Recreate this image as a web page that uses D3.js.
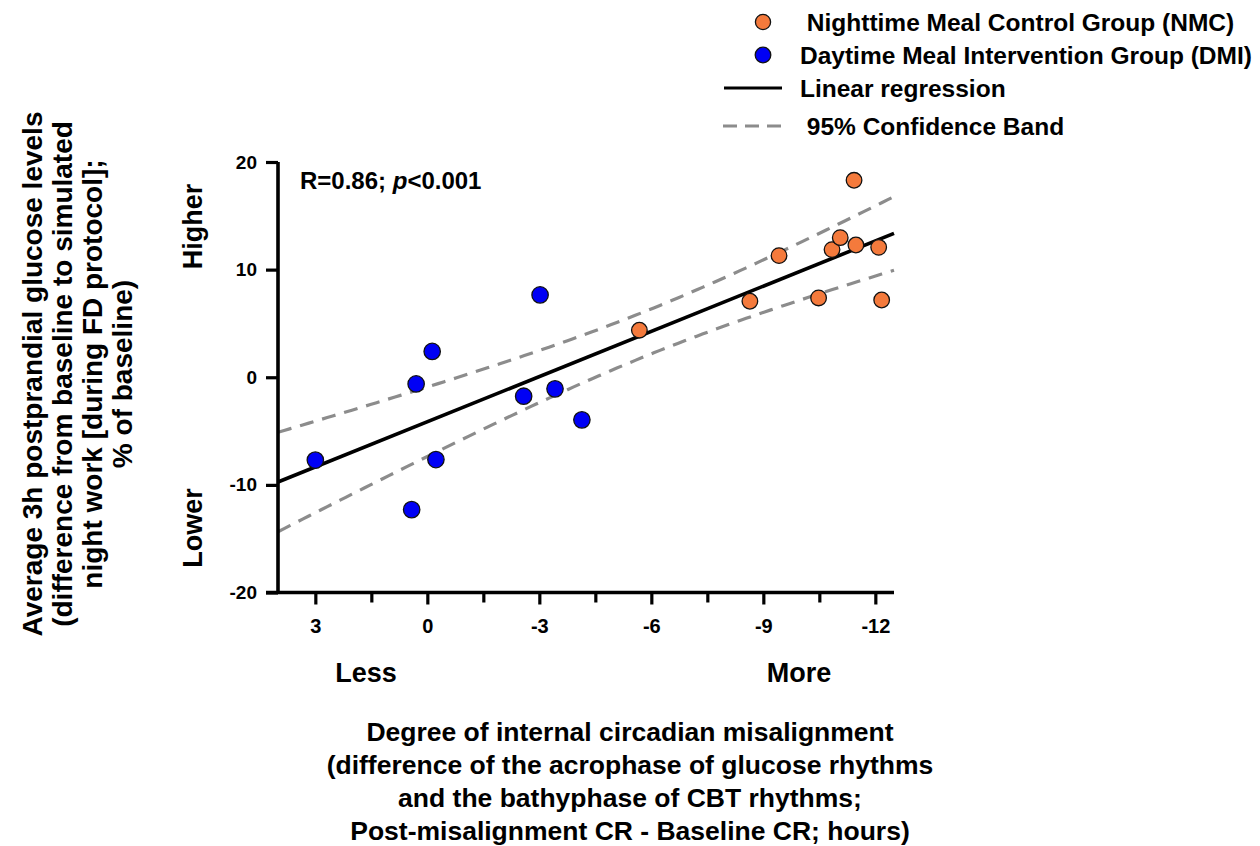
<!DOCTYPE html>
<html>
<head>
<meta charset="utf-8">
<script src="https://cdn.jsdelivr.net/npm/d3@7"></script>
<style>
  html, body { margin: 0; padding: 0; background: #fff; }
  svg { display: block; }
  text { font-family: "Liberation Sans", Arial, sans-serif; font-weight: bold; fill: #000; }
</style>
</head>
<body>
<svg id="chart" width="1260" height="846"></svg>
<script>
// Circadian misalignment (hours) vs. change in postprandial glucose (% of baseline)
const nmcX = [-5.68, -8.64, -9.42, -10.48, -10.84, -11.06, -11.43, -11.48, -12.09, -12.17];
const nmcY = [4.37, 7.06, 11.3, 7.37, 11.86, 12.97, 18.3, 12.29, 12.07, 7.18];
const dmiX = [3.0, 0.42, 0.3, -0.13, -0.23, -2.58, -3.02, -3.42, -4.14];
const dmiY = [-7.7, -12.3, -0.62, 2.4, -7.65, -1.76, 7.65, -1.08, -3.96];

const xTicks = [3, 1.5, 0, -1.5, -3, -4.5, -6, -7.5, -9, -10.5, -12];
const xTickLabels = [3, 0, -3, -6, -9, -12];
const yTicks = [20, 10, 0, -10, -20];

const legendLabels = [
  " Nighttime Meal Control Group (NMC)",
  "Daytime Meal Intervention Group (DMI)",
  "Linear regression",
  " 95% Confidence Band"
];
const statsLabel = ["R=0.86; ", "p", "<0.001"];
const yTitleLines = [
  "Average 3h postprandial glucose levels",
  "(difference from baseline to simulated",
  "night work [during FD protocol];",
  "% of baseline)"
];
const xTitleLines = [
  "Degree of internal circadian misalignment",
  "(difference of the acrophase of glucose rhythms",
  "and the bathyphase of CBT rhythms;",
  "Post-misalignment CR - Baseline CR; hours)"
];

const tCrit = 2.110; // two-sided 95%, df = 17

const ORANGE = "#F47A3C";
const BLUE = "#0000F5";
const GREY = "#8C8C8C";

const svg = d3.select("#chart");

const x = d3.scaleLinear().domain([4, -12.5]).range([278, 894]);
const y = d3.scaleLinear().domain([-20, 20]).range([592.5, 162]);

// ---- least squares fit over both groups ----
const allX = nmcX.concat(dmiX);
const allY = nmcY.concat(dmiY);
const n = allX.length;
const mx = d3.mean(allX), my = d3.mean(allY);
const sxx = d3.sum(allX, v => (v - mx) ** 2);
const sxy = d3.sum(allX, (v, i) => (v - mx) * (allY[i] - my));
const slope = sxy / sxx;
const intercept = my - slope * mx;
const sse = d3.sum(allX, (v, i) => (allY[i] - (intercept + slope * v)) ** 2);
const s = Math.sqrt(sse / (n - 2));
const fit = v => intercept + slope * v;
const half = v => tCrit * s * Math.sqrt(1 / n + (v - mx) ** 2 / sxx);

const xs = d3.range(0, 101).map(i => 4 + (-12.5 - 4) * i / 100);
const line = d3.line().x(d => x(d[0])).y(d => y(d[1]));

const plot = svg.append("g");

// confidence band
[1, -1].forEach(sign => {
  plot.append("path")
    .attr("d", line(xs.map(v => [v, fit(v) + sign * half(v)])))
    .attr("fill", "none")
    .attr("stroke", GREY)
    .attr("stroke-width", 3.2)
    .attr("stroke-dasharray", "14,9");
});

// regression line
plot.append("path")
  .attr("d", line([[4, fit(4)], [-12.5, fit(-12.5)]]))
  .attr("fill", "none")
  .attr("stroke", "#000")
  .attr("stroke-width", 3.6);

// points
const pts = plot.append("g");
pts.selectAll("circle.dmi").data(dmiX.map((v, i) => [v, dmiY[i]])).join("circle")
  .attr("class", "dmi")
  .attr("cx", d => x(d[0])).attr("cy", d => y(d[1])).attr("r", 8.2)
  .attr("fill", BLUE).attr("stroke", "#111").attr("stroke-width", 1.3);
pts.selectAll("circle.nmc").data(nmcX.map((v, i) => [v, nmcY[i]])).join("circle")
  .attr("class", "nmc")
  .attr("cx", d => x(d[0])).attr("cy", d => y(d[1])).attr("r", 7.8)
  .attr("fill", ORANGE).attr("stroke", "#111").attr("stroke-width", 1.3);

// ---- axes ----
const xAxis = d3.axisBottom(x)
  .tickValues(xTicks)
  .tickSize(12)
  .tickSizeOuter(0)
  .tickPadding(14)
  .tickFormat(d => xTickLabels.includes(d) ? String(d) : "");
const gx = svg.append("g").attr("transform", `translate(0,${y(-20)})`).call(xAxis);
gx.select(".domain").attr("stroke-width", 3.6).attr("d", `M${x(4) - 12},0H${x(-12.5)}`);
gx.selectAll(".tick line").attr("stroke-width", 3.2)
  .attr("y2", d => xTickLabels.includes(d) ? 12 : 10);
gx.selectAll(".tick text").attr("font-size", 20).style("font-family", "Liberation Sans, Arial, sans-serif").style("font-weight", "bold");

const yAxis = d3.axisLeft(y)
  .tickValues(yTicks)
  .tickSize(12)
  .tickSizeOuter(0)
  .tickPadding(9)
  .tickFormat(d => String(d));
const gy = svg.append("g").attr("transform", `translate(${x(4)},0)`).call(yAxis);
gy.select(".domain").attr("stroke-width", 3.6).attr("d", `M0,${y(20)}V${y(-20)}`);
gy.selectAll(".tick line").attr("stroke-width", 3.2);
gy.selectAll(".tick text").attr("font-size", 19).style("font-family", "Liberation Sans, Arial, sans-serif").style("font-weight", "bold");

// R annotation
const stat = svg.append("text").attr("x", 300).attr("y", 189).attr("font-size", 24);
stat.append("tspan").text(statsLabel[0]);
stat.append("tspan").attr("font-style", "italic").text(statsLabel[1]);
stat.append("tspan").text(statsLabel[2]);

// Higher / Lower
svg.append("text").attr("transform", `translate(193,${y(14)}) rotate(-90)`)
  .attr("text-anchor", "middle").attr("dy", "0.35em").attr("font-size", 27).text("Higher");
svg.append("text").attr("transform", `translate(193,${y(-14)}) rotate(-90)`)
  .attr("text-anchor", "middle").attr("dy", "0.35em").attr("font-size", 27).text("Lower");

// Less / More
svg.append("text").attr("x", 366).attr("y", 682).attr("text-anchor", "middle").attr("font-size", 27).text("Less");
svg.append("text").attr("x", 799).attr("y", 682).attr("text-anchor", "middle").attr("font-size", 27).text("More");

// y title
const yt = svg.append("g").attr("transform", "translate(0,374)");
yTitleLines.forEach((t, i) => {
  yt.append("text").attr("transform", `translate(${32 + i * 30},0) rotate(-90)`)
    .attr("text-anchor", "middle").attr("dy", "0.35em").attr("font-size", 28).text(t);
});

// x title
xTitleLines.forEach((t, i) => {
  svg.append("text").attr("x", 630).attr("y", 741 + i * 33)
    .attr("text-anchor", "middle").attr("font-size", 26.5).text(t);
});

// legend
const lg = svg.append("g");
const legY = [22, 55, 88, 126];
lg.append("circle").attr("cx", 763).attr("cy", legY[0]).attr("r", 7.6)
  .attr("fill", ORANGE).attr("stroke", "#111").attr("stroke-width", 1.3);
lg.append("circle").attr("cx", 763).attr("cy", legY[1]).attr("r", 7.8)
  .attr("fill", BLUE).attr("stroke", "#111").attr("stroke-width", 1.3);
lg.append("line").attr("x1", 724).attr("x2", 782).attr("y1", legY[2]).attr("y2", legY[2])
  .attr("stroke", "#000").attr("stroke-width", 3.2);
lg.append("line").attr("x1", 723).attr("x2", 782).attr("y1", legY[3]).attr("y2", legY[3])
  .attr("stroke", GREY).attr("stroke-width", 3.2).attr("stroke-dasharray", "14,8");
legendLabels.forEach((t, i) => {
  lg.append("text").attr("x", 800).attr("y", legY[i]).attr("dy", "0.35em")
    .attr("font-size", 24.5).attr("xml:space", "preserve").style("white-space", "pre").text(t);
});
</script>
</body>
</html>
